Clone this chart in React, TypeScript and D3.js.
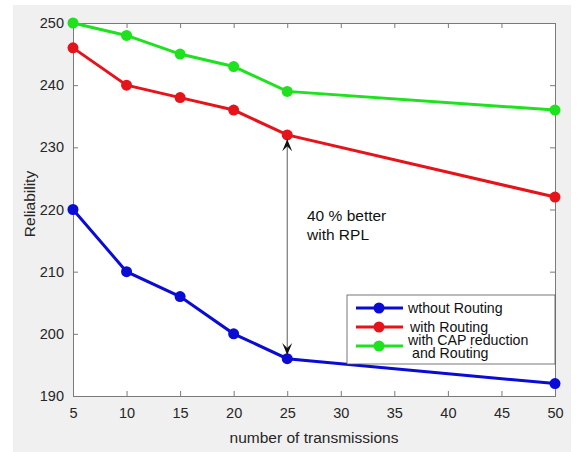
import { useEffect, useRef } from "react";
import * as d3 from "d3";

const transmissions = [5, 10, 15, 20, 25, 50];
const withoutRouting = [220, 210, 206, 200, 196, 192];
const withRouting = [246, 240, 238, 236, 232, 222];
const withCapRouting = [250, 248, 245, 243, 239, 236];
const xTicks = [5, 10, 15, 20, 25, 30, 35, 40, 45, 50];
const yTicks = [190, 200, 210, 220, 230, 240, 250];

const series = [
  { name: ["wthout Routing"], values: withoutRouting, color: "#0b0bd6" },
  { name: ["with Routing"], values: withRouting, color: "#e6141a" },
  { name: ["with CAP reduction", "and Routing"], values: withCapRouting, color: "#1ee21e" },
];

const App = () => {
  const svgRef = useRef<SVGSVGElement>(null);

  useEffect(() => {
    const svg = d3.select(svgRef.current);
    svg.selectAll("*").remove();
    const font = "'Liberation Sans', Arial, sans-serif";
    const left = 73, top = 23, right = 555, bottom = 396;

    svg.append("rect").attr("x", 13).attr("y", 5).attr("width", 558).attr("height", 447).attr("fill", "#f0f0f0");
    svg.append("rect").attr("x", left).attr("y", top).attr("width", right - left).attr("height", bottom - top).attr("fill", "#fff");

    const x = d3.scaleLinear().domain([5, 50]).range([left, right]);
    const y = d3.scaleLinear().domain([190, 250]).range([bottom, top]);

    // axes (box with inward ticks)
    const axisColor = "#262626";
    const g = svg.append("g");
    g.append("g").attr("transform", `translate(0,${bottom})`).call(d3.axisBottom(x).tickValues(xTicks).tickSize(-5).tickPadding(12));
    g.append("g").attr("transform", `translate(0,${top})`).call(d3.axisTop(x).tickValues(xTicks).tickSize(-5).tickFormat(() => ""));
    g.append("g").attr("transform", `translate(${left},0)`).call(d3.axisLeft(y).tickValues(yTicks).tickSize(-5).tickPadding(9));
    g.append("g").attr("transform", `translate(${right},0)`).call(d3.axisRight(y).tickValues(yTicks).tickSize(-5).tickFormat(() => ""));
    g.selectAll(".domain").attr("stroke", "#7a7a7a");
    g.selectAll(".tick line").attr("stroke", "#7a7a7a");
    g.selectAll("text").attr("font-family", font).attr("font-size", 14.5).attr("fill", axisColor);

    svg.append("text").attr("x", (left + right) / 2).attr("y", 443).attr("text-anchor", "middle")
      .attr("font-family", font).attr("font-size", 15.5).attr("fill", axisColor).text("number of transmissions");
    svg.append("text").attr("transform", `translate(35,204) rotate(-90)`).attr("text-anchor", "middle")
      .attr("font-family", font).attr("font-size", 15.5).attr("fill", axisColor).text("Reliability");

    const line = d3.line<number>().x((_, i) => x(transmissions[i])).y((d) => y(d));
    series.forEach((s) => {
      svg.append("path").attr("d", line(s.values)).attr("fill", "none").attr("stroke", s.color).attr("stroke-width", 3);
      svg.selectAll(null).data(s.values).join("circle")
        .attr("cx", (_, i) => x(transmissions[i])).attr("cy", (d) => y(d)).attr("r", 5.5).attr("fill", s.color);
    });

    // double arrow
    const ax = x(25);
    const y1 = y(231.3), y2 = y(196.6);
    svg.append("line").attr("x1", ax).attr("x2", ax).attr("y1", y1).attr("y2", y2).attr("stroke", "#333").attr("stroke-width", 0.8);
    const head = (tipY: number, dir: number) => {
      svg.append("path")
        .attr("d", `M${ax - 5},${tipY + dir * 12} L${ax},${tipY} L${ax + 5},${tipY + dir * 12} L${ax},${tipY + dir * 7} Z`)
        .attr("fill", "#111");
    };
    head(y1, 1);
    head(y2, -1);

    svg.append("text").attr("x", 307).attr("y", 221).attr("font-family", font).attr("font-size", 15.5).attr("fill", "#111").text("40 % better");
    svg.append("text").attr("x", 307).attr("y", 240).attr("font-family", font).attr("font-size", 15.5).attr("fill", "#111").text("with RPL");

    // legend
    const lg = svg.append("g");
    lg.append("rect").attr("x", 347).attr("y", 295).attr("width", 208).attr("height", 69).attr("fill", "#fff").attr("stroke", "#555").attr("stroke-width", 0.8);
    const rowY = [308, 327, 346];
    const textX = [[408], [410], [408, 412]];
    const textY = [[313], [332], [345, 358]];
    series.forEach((s, i) => {
      lg.append("line").attr("x1", 356).attr("x2", 403).attr("y1", rowY[i]).attr("y2", rowY[i]).attr("stroke", s.color).attr("stroke-width", 3);
      lg.append("circle").attr("cx", 379).attr("cy", rowY[i]).attr("r", 5.5).attr("fill", s.color);
      s.name.forEach((n, j) => {
        lg.append("text").attr("x", textX[i][j]).attr("y", textY[i][j])
          .attr("font-family", font).attr("font-size", 14.2).attr("fill", "#111").text(n);
      });
    });
  }, []);

  return <svg ref={svgRef} width={577} height={452} style={{ position: "absolute", left: 0, top: 0, background: "#fff" }} />;
};

export default App;
